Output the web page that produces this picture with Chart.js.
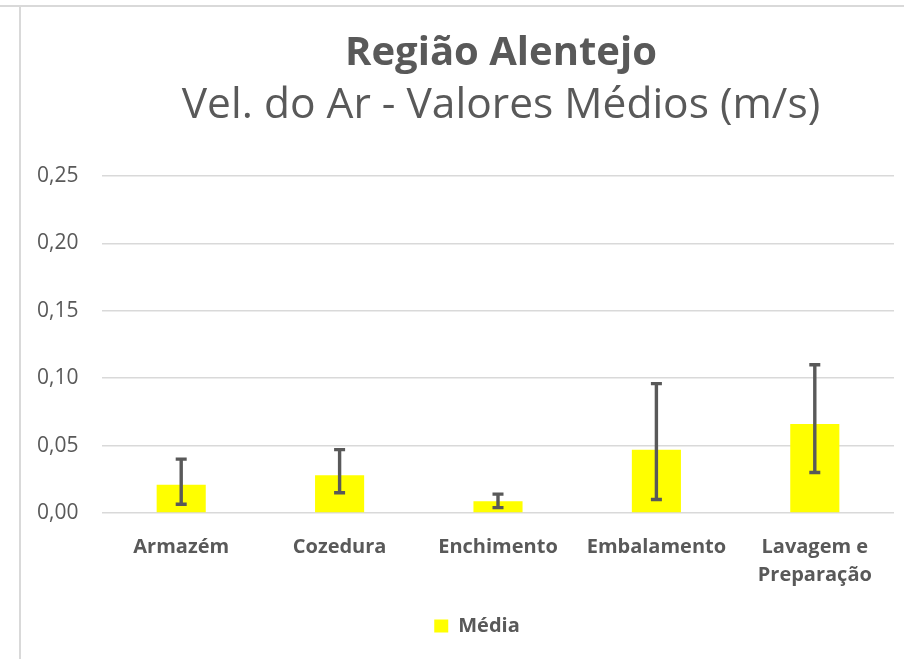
<!DOCTYPE html>
<html>
<head>
<meta charset="utf-8">
<script src="https://cdn.jsdelivr.net/npm/chart.js@4"></script>
<style>
  body { margin: 0; background: #fff; overflow: hidden; }
  #wrap { position: relative; width: 904px; height: 659px; }
  #lineTop { position: absolute; left: 0; top: 5px; width: 904px; height: 2px; background: #d9d9d9; }
  #lineLeft { position: absolute; left: 19px; top: 6px; width: 2px; height: 653px; background: #d9d9d9; }
</style>
</head>
<body>
<div id="wrap">
  <div id="lineTop"></div>
  <div id="lineLeft"></div>
  <canvas id="chart"></canvas>
</div>
<script>
const titleText = "Região Alentejo";
const subtitleText = "Vel. do Ar - Valores Médios (m/s)";
const categories = ["Armazém", "Cozedura", "Enchimento", "Embalamento", ["Lavagem e", "Preparação"]];
const media = [0.021, 0.028, 0.0088, 0.047, 0.066];
const errHigh = [0.040, 0.047, 0.014, 0.096, 0.110];
const errLow = [0.0065, 0.015, 0.004, 0.010, 0.030];
const yTicks = [0, 0.05, 0.10, 0.15, 0.20, 0.25];

const textColor = "#595959";
const font = "'Open Sans', sans-serif";

// error bars drawn from errHigh / errLow through the y scale
const errorBars = {
  id: "errorBars",
  afterDatasetsDraw(chart) {
    const ctx = chart.ctx;
    const y = chart.scales.y;
    const meta = chart.getDatasetMeta(0);
    ctx.save();
    ctx.strokeStyle = "#595959";
    ctx.lineWidth = 3.4;
    meta.data.forEach((bar, i) => {
      const top = y.getPixelForValue(errHigh[i]);
      const bot = y.getPixelForValue(errLow[i]);
      ctx.beginPath();
      ctx.moveTo(bar.x, top);
      ctx.lineTo(bar.x, bot);
      ctx.moveTo(bar.x - 5.5, top);
      ctx.lineTo(bar.x + 5.5, top);
      ctx.moveTo(bar.x - 5.5, bot);
      ctx.lineTo(bar.x + 5.5, bot);
      ctx.stroke();
    });
    ctx.restore();
  }
};

// two-line title centred over the plot area
const titles = {
  id: "titles",
  afterDraw(chart) {
    const ctx = chart.ctx;
    const cx = (chart.chartArea.left + chart.chartArea.right) / 2 + 3;
    ctx.save();
    ctx.fillStyle = textColor;
    ctx.textAlign = "center";
    ctx.textBaseline = "alphabetic";
    ctx.font = "bold 40px " + font;
    ctx.fillText(titleText, cx, 65);
    ctx.font = "42.5px " + font;
    ctx.fillText(subtitleText, cx, 118);
    ctx.restore();
  }
};

new Chart(document.getElementById("chart"), {
  type: "bar",
  data: {
    labels: categories,
    datasets: [{
      label: "Média",
      data: media,
      backgroundColor: "#FFFF00",
      borderWidth: 0,
      categoryPercentage: 1,
      barPercentage: 0.31
    }]
  },
  options: {
    responsive: true,
    maintainAspectRatio: false,
    animation: false,
    layout: { padding: { left: 60, right: 10, top: 176, bottom: 13 } },
    plugins: {
      title: { display: false },
      tooltip: { enabled: false },
      legend: {
        position: "bottom",
        labels: {
          color: textColor,
          boxWidth: 14,
          boxHeight: 13,
          padding: 10,
          font: { family: font, size: 20, weight: "bold" }
        }
      }
    },
    scales: {
      x: {
        grid: { display: false, drawTicks: false },
        border: { display: false },
        ticks: {
          color: textColor,
          padding: 20,
          maxRotation: 0,
          autoSkip: false,
          font: { family: font, size: 20, weight: "bold", lineHeight: 1.42 }
        },
        afterFit(scale) { scale.height = 93; }
      },
      y: {
        min: 0,
        max: 0.25,
        afterBuildTicks(scale) { scale.ticks = yTicks.map(v => ({ value: v })); },
        grid: { color: "#d9d9d9", lineWidth: 1.5, drawTicks: false },
        border: { display: false },
        ticks: {
          color: textColor,
          mirror: true,
          crossAlign: "near",
          padding: -65,
          font: { family: font, size: 21 },
          callback: v => v.toFixed(2).replace(".", ",")
        },
        afterFit(scale) { scale.width = 42; }
      }
    }
  },
  plugins: [errorBars, titles]
});
</script>
</body>
</html>
